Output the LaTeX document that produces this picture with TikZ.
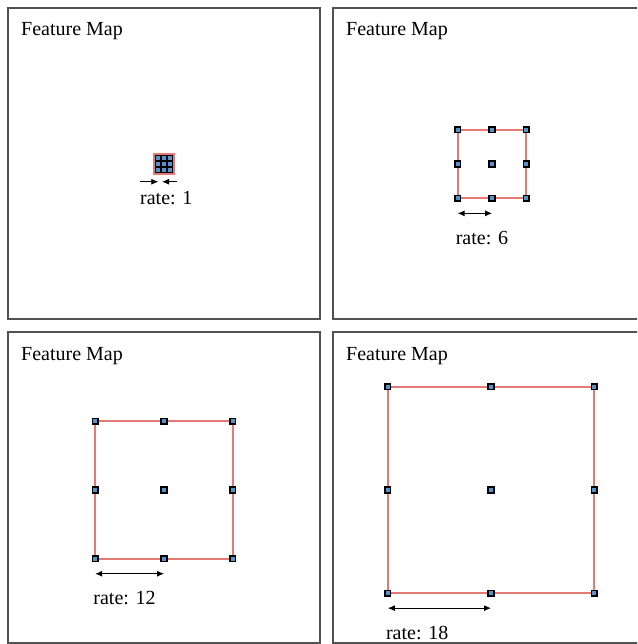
\documentclass[tikz,border=0pt]{standalone}
\usepackage{fontspec}
\setmainfont{Liberation Serif}
\usetikzlibrary{arrows.meta}
\definecolor{mapframe}{RGB}{82,82,82}
\definecolor{fieldred}{RGB}{228,122,116}
\definecolor{tapblue}{RGB}{86,146,206}

\begin{document}
\begin{tikzpicture}[x=1pt,y=-1pt, font=\fontsize{20}{24}\selectfont,
  >={Latex[length=7pt,width=6pt]},
  tap/.style={draw=black,fill=tapblue,line width=1.6pt,minimum size=5.6pt,inner sep=0pt},
  field/.style={fieldred,line width=1.8pt},
  frame/.style={mapframe,line width=1.8pt}]
  \useasboundingbox (0,0) rectangle (637,644);
  \clip (0,0) rectangle (637,644);
  
  % four feature maps: name / panel offset / centre of the taps / rate
  \foreach \m/\px/\py/\cx/\cy/\r in {a/0/0/164/164/1, b/325/0/492/164/6, c/0/324/164/490/12, d/325/324/491/490/18}{
    \pgfmathsetmacro\s{5.73*\r}
    \pgfmathsetmacro\e{\r==1 ? 9.8 : \s}
    \draw[frame] (\px+8,\py+8) rectangle ++(312,311);
    \node[anchor=base west,inner sep=0pt] (\m-title) at (\px+21,\py+36) {Feature Map};
    % receptive field
    \draw[field] (\cx-\e,\cy-\e) rectangle (\cx+\e,\cy+\e);
    % 3x3 taps
    \foreach \i in {0,1,2}
      \foreach \j in {0,1,2}
        \node[tap] (\m-\i\j) at (\cx+\i*\s-\s,\cy+\j*\s-\s) {};
    % rate marker
    \ifnum\r=1
      \coordinate (\m-al) at (\cx-\s,\cy+\s+12);
      \coordinate (\m-ar) at (\cx-2,\cy+\s+12);
      \coordinate (\m-bl) at (140,\cy+\s+12);
      \coordinate (\m-br) at (177,\cy+\s+12);
      \draw[->,line width=0.9pt] (\m-bl) -- (\m-al);
      \draw[->,line width=0.9pt] (\m-br) -- (\m-ar);
      \node[anchor=base west,inner sep=0pt] (\m-rate) at (140,\cy+\s+35) {rate: \r};
    \else
      \coordinate (\m-al) at (\cx-\s,\cy+\s+15);
      \coordinate (\m-ar) at (\cx,\cy+\s+15);
      \draw[<->,line width=0.9pt] (\m-al) -- (\m-ar);
      \node[anchor=base west,inner sep=0pt] (\m-rate) at (\cx-\s-2,\cy+\s+46) {rate: \r};
    \fi
  }
\end{tikzpicture}
\end{document}
